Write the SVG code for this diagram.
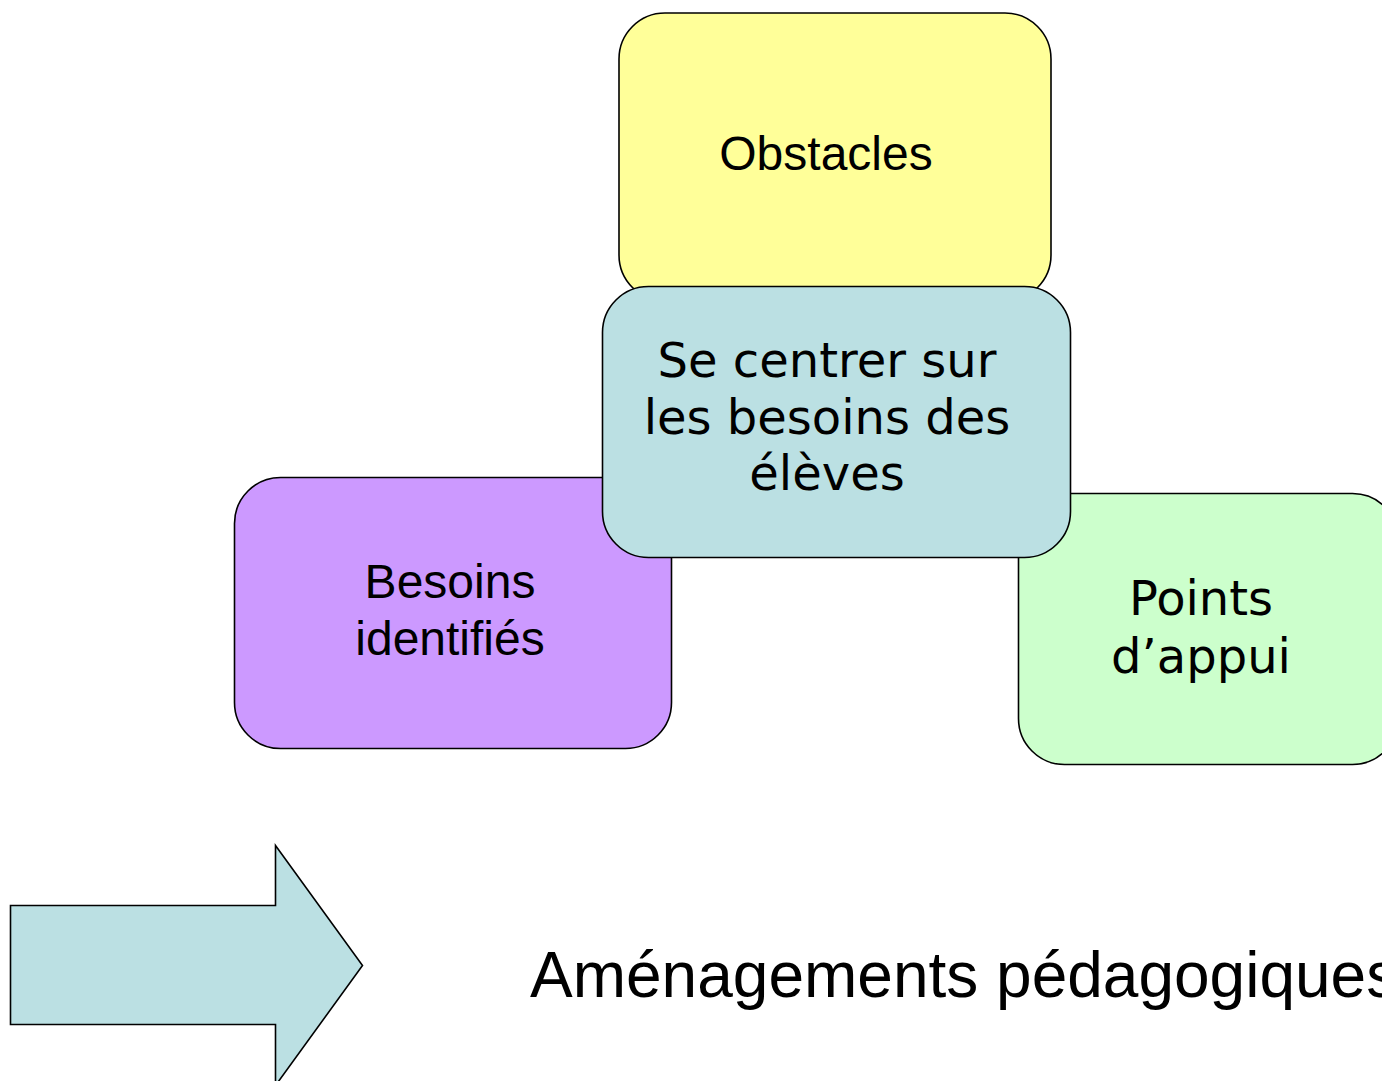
<svg xmlns="http://www.w3.org/2000/svg" width="1382" height="1081" viewBox="0 0 1382 1081">
<style>
.box{stroke:#000;stroke-width:1.6}
.arial{font-family:"Liberation Sans",Arial,sans-serif;font-size:48px;fill:#000;text-anchor:middle}
.verd{font-family:"DejaVu Sans",Verdana,sans-serif;font-size:48px;fill:#000;text-anchor:middle}
</style>
<rect width="1382" height="1081" fill="#fff"/>
<g id="obstacles">
<rect class="box" x="619" y="13" width="432" height="288" rx="46" ry="46" fill="#FFFF99"/>
<text class="arial" x="826" y="170">Obstacles</text>
</g>
<g id="besoins">
<rect class="box" x="234.5" y="477.5" width="437" height="271" rx="46" ry="46" fill="#CC99FF"/>
<text class="arial" x="450"><tspan x="450" y="598">Besoins</tspan><tspan x="450" y="655">identifiés</tspan></text>
</g>
<g id="points">
<rect class="box" x="1018.5" y="493.5" width="380" height="271" rx="46" ry="46" fill="#CCFFCC"/>
<text class="verd" x="1201"><tspan x="1201" y="615">Points</tspan><tspan x="1201" y="673">d’appui</tspan></text>
</g>
<g id="centre">
<rect class="box" x="602.5" y="286.5" width="468" height="271" rx="46" ry="46" fill="#BBE0E3"/>
<text class="verd" x="827"><tspan x="827" y="377">Se centrer sur</tspan><tspan x="827" y="434">les besoins des</tspan><tspan x="827" y="490">élèves</tspan></text>
</g>
<g id="connectors">
<path class="box" d="M10.5 905.5 H275.5 V845.5 L362.5 965.5 L275.5 1085.5 V1024.5 H10.5 Z" fill="#BBE0E3"/>
</g>
<g id="amenagements">
<text x="530" y="997" font-family="Liberation Sans, Arial, sans-serif" font-size="64" fill="#000">Aménagements pédagogiques</text>
</g>
</svg>
